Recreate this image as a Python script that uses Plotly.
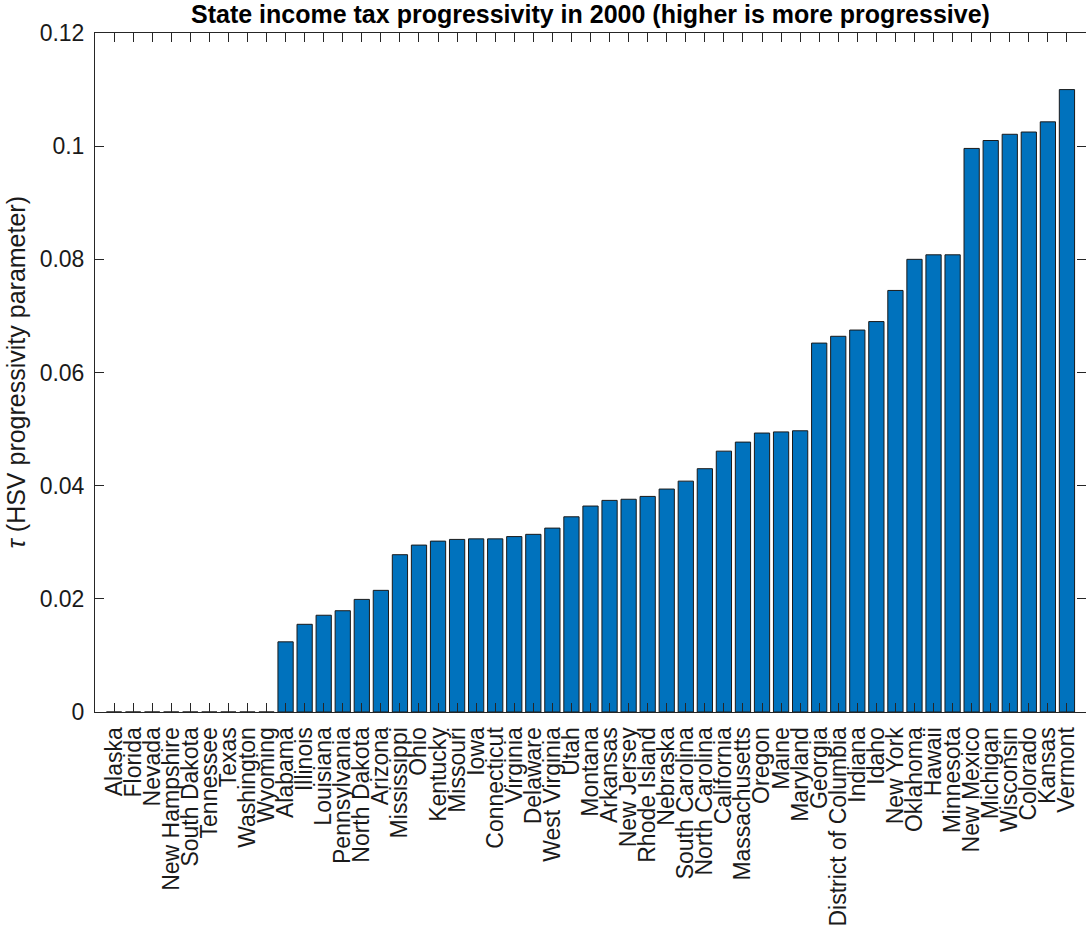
import plotly.graph_objects as go

# States ordered by HSV progressivity parameter (tau), 2000
states = [
    "Alaska", "Florida", "Nevada", "New Hampshire", "South Dakota", "Tennessee",
    "Texas", "Washington", "Wyoming", "Alabama", "Illinois", "Louisiana",
    "Pennsylvania", "North Dakota", "Arizona", "Mississippi", "Ohio", "Kentucky",
    "Missouri", "Iowa", "Connecticut", "Virginia", "Delaware", "West Virginia",
    "Utah", "Montana", "Arkansas", "New Jersey", "Rhode Island", "Nebraska",
    "South Carolina", "North Carolina", "California", "Massachusetts", "Oregon",
    "Maine", "Maryland", "Georgia", "District of Columbia", "Indiana", "Idaho",
    "New York", "Oklahoma", "Hawaii", "Minnesota", "New Mexico", "Michigan",
    "Wisconsin", "Colorado", "Kansas", "Vermont",
]

tau = [
    0.0, 0.0, 0.0, 0.0, 0.0, 0.0,
    0.0, 0.0, 0.0, 0.0124, 0.0155, 0.0171,
    0.0179, 0.0199, 0.0215, 0.0278, 0.0295, 0.0302,
    0.0305, 0.0306, 0.0306, 0.0310, 0.0314, 0.0325,
    0.0345, 0.0364, 0.0374, 0.0376, 0.0381, 0.0394,
    0.0408, 0.0430, 0.0461, 0.0477, 0.0493, 0.0495,
    0.0497, 0.0652, 0.0664, 0.0675, 0.0690, 0.0745,
    0.0800, 0.0808, 0.0808, 0.0996, 0.1010, 0.1021,
    0.1025, 0.1043, 0.1100,
]

title_text = "State income tax progressivity in 2000 (higher is more progressive)"
ylabel_text = "<i>τ</i> (HSV progressivity parameter)"
yticks = [0, 0.02, 0.04, 0.06, 0.08, 0.1, 0.12]
ytick_labels = ["0", "0.02", "0.04", "0.06", "0.08", "0.1", "0.12"]

FONT = "Liberation Sans, Arial, Helvetica, sans-serif"
AXIS_COLOR = "#262626"
TEXT_COLOR = "#1a1a1a"

fig = go.Figure(
    go.Bar(
        x=states,
        y=tau,
        width=0.8,
        marker=dict(color="#0072BD", line=dict(color="#1a1a1a", width=1)),
    )
)

fig.update_layout(
    width=1086,
    height=927,
    margin=dict(l=95, r=0, t=33, b=215),
    paper_bgcolor="white",
    plot_bgcolor="white",
    showlegend=False,
    font=dict(family=FONT, size=23, color=TEXT_COLOR),
)

# every state gets its own label, no automatic thinning
fig.update_xaxes(
    type="category",
    range=[-1, len(states)],
    tickmode="array",
    tickvals=states,
    ticktext=states,
    tickangle=-90,
    ticks="inside",
    ticklen=9,
    tickwidth=1,
    tickcolor=AXIS_COLOR,
    showline=True,
    linecolor=AXIS_COLOR,
    linewidth=1,
    mirror="allticks",
    showgrid=False,
    layer="above traces",
    tickfont=dict(size=23, family=FONT, color=TEXT_COLOR),
    ticklabelstandoff=5,
)

fig.update_yaxes(
    range=[0, 0.12],
    tickmode="array",
    tickvals=yticks,
    ticktext=ytick_labels,
    ticks="inside",
    ticklen=9,
    tickwidth=1,
    tickcolor=AXIS_COLOR,
    showline=True,
    linecolor=AXIS_COLOR,
    linewidth=1,
    mirror="allticks",
    showgrid=False,
    zeroline=False,
    layer="above traces",
    tickfont=dict(size=23, family=FONT, color=TEXT_COLOR),
    ticklabelstandoff=5,
)

fig.add_annotation(
    text="<b>" + title_text + "</b>",
    xref="paper", yref="paper",
    x=0.5, y=1,
    yshift=19,
    xanchor="center", yanchor="middle",
    showarrow=False,
    font=dict(size=25, family=FONT, color="black"),
)

fig.add_annotation(
    text=ylabel_text,
    xref="paper", yref="paper",
    x=0, y=0.5,
    xshift=-80,
    xanchor="center", yanchor="middle",
    textangle=-90,
    showarrow=False,
    font=dict(size=25, family=FONT, color=TEXT_COLOR),
)

fig.write_html("out.html")
